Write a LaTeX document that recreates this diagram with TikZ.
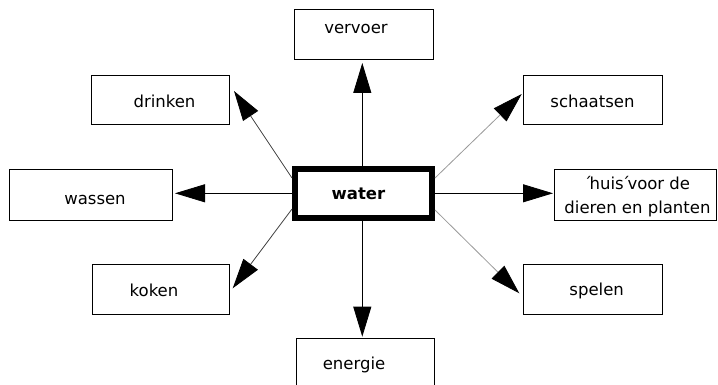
\documentclass[tikz,border=0pt]{standalone}
\usepackage{fontspec}
\setmainfont{DejaVu Sans}
\usetikzlibrary{arrows.meta}
\begin{document}
\begin{tikzpicture}[x=1pt,y=-1pt,
  box/.style={draw=black,line width=1pt,rectangle,inner sep=0pt,anchor=north west},
  centre/.style={draw=black,line width=6pt,rectangle,inner sep=0pt,
    minimum width=137.5pt,minimum height=48.5pt},
  txt/.style={inner sep=0pt,anchor=base,font=\fontsize{16.5}{20}\selectfont},
  conn/.style={line width=0.8pt,draw=black,-{Triangle[length=30pt,width=18pt,color=black]}},
  connl/.style={conn,draw=black!75},
  connr/.style={conn,draw=black!40}
]
\useasboundingbox (0,0) rectangle (718,385);
\clip (0,0) rectangle (718,385);

% outer boxes
\node[box,minimum width=138.7pt,minimum height=50pt] (vervoerbox)   at (294,9.3)    {};
\node[box,minimum width=138pt,  minimum height=49.3pt] (drinkbox)   at (91,74.7)    {};
\node[box,minimum width=138.7pt,minimum height=49.3pt] (schaatsbox) at (523.3,74.7) {};
\node[box,minimum width=163pt,  minimum height=50.7pt] (wasbox)     at (9.3,169.3)  {};
\node[box,minimum width=162pt,  minimum height=50.7pt] (huisbox)    at (554,169.3)  {};
\node[box,minimum width=137.3pt,minimum height=49.7pt] (kookbox)    at (91.7,264.3) {};
\node[box,minimum width=138.4pt,minimum height=49.7pt] (speelbox)   at (523.3,264.3){};
\node[box,minimum width=138pt,  minimum height=70pt]   (energiebox) at (296,338.3)  {};

% central box
\node[centre] (water) at (363.25,193.55) {};

% texts
\node[txt] (vervoer)   at (356,33.3)   {vervoer};
\node[txt] (drinken)   at (164.5,107.3){drinken};
\node[txt] (schaatsen) at (592.5,107.7){schaatsen};
\node[txt] (wassen)    at (95,204.3)   {wassen};
\node[txt,font=\fontsize{16.5}{20}\selectfont\bfseries] (watertxt) at (358.5,199.3) {water};
\node[txt] (huis1)     at (637,189.3)  {´\kern-2.5pt huis\kern-2pt´\kern-2.5pt voor de};
\node[txt] (huis2)     at (637.5,213.3){dieren en planten};
\node[txt] (koken)     at (154,296)    {koken};
\node[txt] (spelen)    at (596.7,295)  {spelen};
\node[txt] (energie)   at (354,369.3)  {energie};

% connector ends
\coordinate (wN)  at (362.3,166.3);
\coordinate (wS)  at (362.3,220.8);
\coordinate (wW)  at (291.5,193.3);
\coordinate (wE)  at (435,193.3);
\coordinate (wNW) at (292,178);
\coordinate (wSW) at (292,209);
\coordinate (wNE) at (435,178);
\coordinate (wSE) at (435,210);

\coordinate (tVervoer)  at (362.3,63);
\coordinate (tEnergie)  at (362.3,336.7);
\coordinate (tWassen)   at (175,193.3);
\coordinate (tHuis)     at (553,193.3);
\coordinate (tDrinken)  at (234,91);
\coordinate (tKoken)    at (232.7,288.3);
\coordinate (tSchaats)  at (521.7,94);
\coordinate (tSpelen)   at (519.3,293.3);

% connectors
\draw[conn]  (wN)  -- (tVervoer);
\draw[conn]  (wS)  -- (tEnergie);
\draw[conn]  (wW)  -- (tWassen);
\draw[conn]  (wE)  -- (tHuis);
\draw[connl] (wNW) -- (tDrinken);
\draw[connl] (wSW) -- (tKoken);
\draw[connr] (wNE) -- (tSchaats);
\draw[connr] (wSE) -- (tSpelen);
\end{tikzpicture}
\end{document}
